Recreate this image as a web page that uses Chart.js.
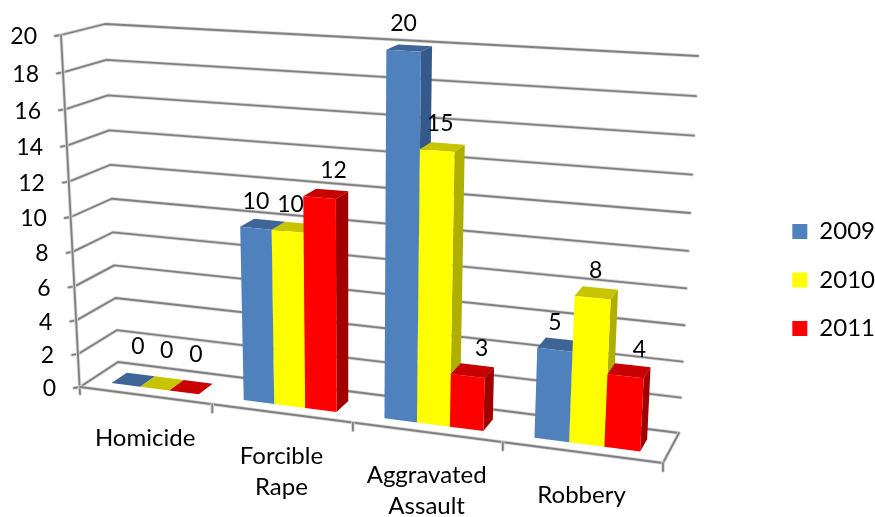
<!DOCTYPE html>
<html>
<head>
<meta charset="utf-8">
<title>Offenses</title>
<script src="https://cdn.jsdelivr.net/npm/chart.js@4"></script>
<style>
  html, body { margin: 0; padding: 0; background: #fff; }
  #wrap { width: 875px; height: 517px; }
</style>
</head>
<body>
<div id="wrap"><canvas id="myChart"></canvas></div>
<script>
const categories = [['Homicide'], ['Forcible', 'Rape'], ['Aggravated', 'Assault'], ['Robbery']];
const seriesNames = ['2009', '2010', '2011'];
const values2009 = [0, 10, 20, 5];
const values2010 = [0, 10, 15, 8];
const values2011 = [0, 12, 3, 4];

const frontColors = ['#4f81bd', '#ffff00', '#ff0000'];
const topColors = ['#3e6595', '#c8c400', '#c80000'];
const sideColors = ['#335a8a', '#afaf00', '#a00000'];
const labelShift = [0, 3, 14];

const FONT = '24px Lato';
const VALUE_FONT = '23px Lato';
const GRID = '#808080';

// corners of the 3d box on screen, [u][v][depth]
const box = {
  fl0: [80, 387], fr0: [663, 463], bl0: [118, 362], br0: [679, 433],
  fl1: [61, 35], fr1: [684, 71], bl1: [105, 24], br1: [698, 56]
};
const barFront = 0.27;
const barBack = 0.68;

function project(u, v, d) {
  // perspective: the scales are not quite even on screen
  const uu = 0.88 * u / (1 - 0.12 * u);
  const vv = 0.934 * v / (1 - 0.066 * v);
  const out = [];
  for (let i = 0; i < 2; i++) {
    const f0 = box.fl0[i] + (box.fr0[i] - box.fl0[i]) * uu;
    const f1 = box.fl1[i] + (box.fr1[i] - box.fl1[i]) * uu;
    const b0 = box.bl0[i] + (box.br0[i] - box.bl0[i]) * uu;
    const b1 = box.bl1[i] + (box.br1[i] - box.bl1[i]) * uu;
    const f = f0 + (f1 - f0) * vv;
    const b = b0 + (b1 - b0) * vv;
    out.push(f + (b - f) * d);
  }
  return out;
}

function poly(ctx, pts, color) {
  ctx.beginPath();
  pts.forEach((p, i) => i ? ctx.lineTo(p[0], p[1]) : ctx.moveTo(p[0], p[1]));
  ctx.closePath();
  ctx.fillStyle = color;
  ctx.fill();
}

function line(ctx, pts) {
  // soft lighter edge below, the original lines look a bit blurred
  [['#d6d6d6', 3.5], [GRID, 1.8]].forEach(s => {
    ctx.beginPath();
    pts.forEach((p, i) => i ? ctx.lineTo(p[0], p[1]) : ctx.moveTo(p[0], p[1]));
    ctx.strokeStyle = s[0];
    ctx.lineWidth = s[1];
    ctx.stroke();
  });
}

const box3d = {
  id: 'box3d',
  beforeDatasetsDraw(chart) {
    const ctx = chart.ctx;
    const area = chart.chartArea;
    const sx = chart.scales.x;
    const sy = chart.scales.y;
    const toU = x => (x - area.left) / area.width;
    const toV = y => (area.bottom - y) / area.height;

    ctx.save();
    ctx.lineCap = 'round';
    ctx.lineJoin = 'round';

    // walls and grid lines
    sy.ticks.forEach(t => {
      const v = toV(sy.getPixelForValue(t.value));
      const a = project(0, v, 0);
      line(ctx, [[a[0] - 6, a[1] + 1], a, project(0, v, 1), project(1, v, 1)]);
    });
    line(ctx, [project(0, 1, 0), [box.fl0[0], box.fl0[1] + 7]]);
    line(ctx, [project(0, 0, 0), project(1, 0, 0), project(1, 0, 1)]);
    const ends = categories.map((c, i) => i + 1);
    ends.forEach(i => {
      const p = project(i / categories.length, 0, 0);
      line(ctx, [p, [p[0], p[1] + 8]]);
    });

    // bars, one group at a time so the front ones cover the back ones
    categories.forEach((c, i) => {
      chart.data.datasets.forEach((ds, k) => {
        const el = chart.getDatasetMeta(k).data[i];
        const u0 = toU(el.x - el.width / 2);
        const u1 = toU(el.x + el.width / 2);
        const v1 = toV(el.y);
        const v0 = toV(el.base);
        poly(ctx, [project(u0, v1, barFront), project(u1, v1, barFront), project(u1, v1, barBack), project(u0, v1, barBack)], topColors[k]);
        poly(ctx, [project(u1, v0, barFront), project(u1, v1, barFront), project(u1, v1, barBack), project(u1, v0, barBack)], sideColors[k]);
        poly(ctx, [project(u0, v0, barFront), project(u1, v0, barFront), project(u1, v1, barFront), project(u0, v1, barFront)], frontColors[k]);
      });
    });

    // value labels
    ctx.font = VALUE_FONT;
    ctx.fillStyle = '#000';
    ctx.textBaseline = 'middle';
    ctx.textAlign = 'center';
    chart.data.datasets.forEach((ds, k) => {
      chart.getDatasetMeta(k).data.forEach((el, i) => {
        const p = project(toU(el.x), toV(el.y), barFront);
        const zero = ds.data[i] === 0;
        ctx.fillText(String(ds.data[i]), p[0] + (zero ? 12 : labelShift[k]), p[1] - (zero ? 38 : 27));
      });
    });

    // axis labels
    ctx.textAlign = 'right';
    sy.ticks.forEach(t => {
      const p = project(0, toV(sy.getPixelForValue(t.value)), 0);
      ctx.fillText(String(t.value), p[0] - 24, p[1] + 2);
    });
    ctx.font = FONT;
    ctx.textAlign = 'center';
    categories.forEach((c, i) => {
      const p = project(toU(sx.getPixelForValue(i)), 0, 0);
      c.forEach((txt, n) => ctx.fillText(txt, p[0], p[1] + 43 + n * 31));
    });
    ctx.restore();
    return false; // the 3d faces replace the flat bars
  }
};

new Chart(document.getElementById('myChart'), {
  type: 'bar',
  plugins: [box3d],
  data: {
    labels: categories,
    datasets: [
      { label: seriesNames[0], data: values2009, backgroundColor: frontColors[0] },
      { label: seriesNames[1], data: values2010, backgroundColor: frontColors[1] },
      { label: seriesNames[2], data: values2011, backgroundColor: frontColors[2] }
    ]
  },
  options: {
    responsive: true,
    maintainAspectRatio: false,
    animation: false,
    layout: { padding: { top: 43, right: -10 } },
    datasets: { bar: { categoryPercentage: 2 / 3, barPercentage: 1 } },
    scales: {
      x: {
        grid: { display: false },
        border: { display: false },
        ticks: { display: false },
        afterFit(scale) { scale.height = 129; }
      },
      y: {
        min: 0,
        max: 20,
        grid: { display: false },
        border: { display: false },
        ticks: { display: false, stepSize: 2 },
        afterFit(scale) { scale.width = 80; }
      }
    },
    plugins: {
      tooltip: { enabled: false },
      legend: {
        position: 'right',
        labels: {
          boxWidth: 15,
          boxHeight: 15,
          padding: 24.5,
          color: '#000',
          font: { family: 'Lato', size: 24 }
        }
      }
    }
  }
});
</script>
</body>
</html>
